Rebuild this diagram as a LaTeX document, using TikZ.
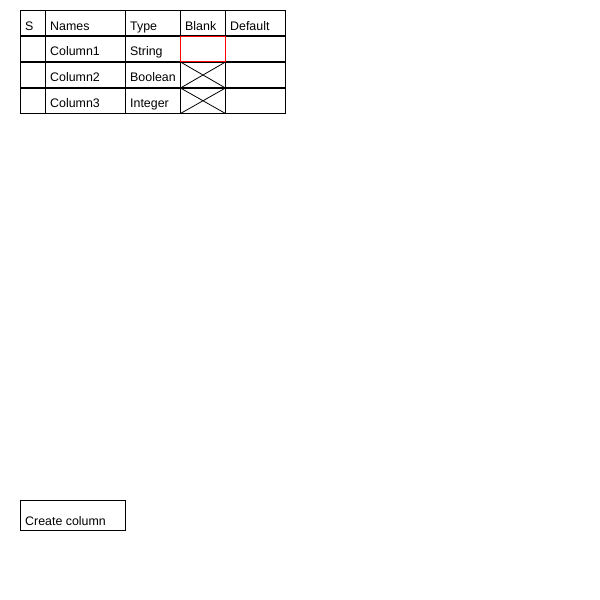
\documentclass[tikz,border=0pt]{standalone}
\usepackage{fontspec}
\setmainfont{Liberation Sans}
\begin{document}
\begin{tikzpicture}[x=1pt,y=-1pt,
  thin line/.style={draw=black,line width=1pt},
  thick line/.style={draw=black,line width=2pt},
  celltext/.style={anchor=base west,inner sep=0pt,font=\fontsize{12.4}{14}\selectfont}]
\useasboundingbox (0,0) rectangle (600,600);
% table frame
\draw[thin line] (20.5,10.5) rectangle (285.5,113.5);
\foreach \x in {45.5,125.5,180.5,225.5} \draw[thin line] (\x,10.5) -- (\x,113.5);
\foreach \y in {35.5,61.5,87.5} \draw[thick line] (20,\y) -- (286,\y);
% crosses
\draw[line width=0.8pt] (180.5,62) -- (225.5,88) (180.5,88) -- (225.5,62);
\draw[line width=0.8pt] (180.5,88) -- (225.5,113.5) (180.5,113.5) -- (225.5,88);
% red selected cell
\draw[red,line width=1pt] (180.5,36.5) rectangle (225.5,61.5);
% header
\node[celltext] (hS) at (25,30) {S};
\node[celltext] (hN) at (50,30) {Names};
\node[celltext] (hT) at (130,30) {Type};
\node[celltext] (hB) at (185,30) {Blank};
\node[celltext] (hD) at (230,30) {Default};
% rows
\node[celltext] (n1) at (50,55.5) {Column1};
\node[celltext] (t1) at (130,55.5) {String};
\node[celltext] (n2) at (50,81.5) {Column2};
\node[celltext] (t2) at (130,81.5) {Boolean};
\node[celltext] (n3) at (50,107.5) {Column3};
\node[celltext] (t3) at (130,107.5) {Integer};
% button
\draw[thin line] (20.5,500.5) rectangle (125.5,530.5);
\node[celltext] (btn) at (25,525) {Create column};
\end{tikzpicture}
\end{document}
